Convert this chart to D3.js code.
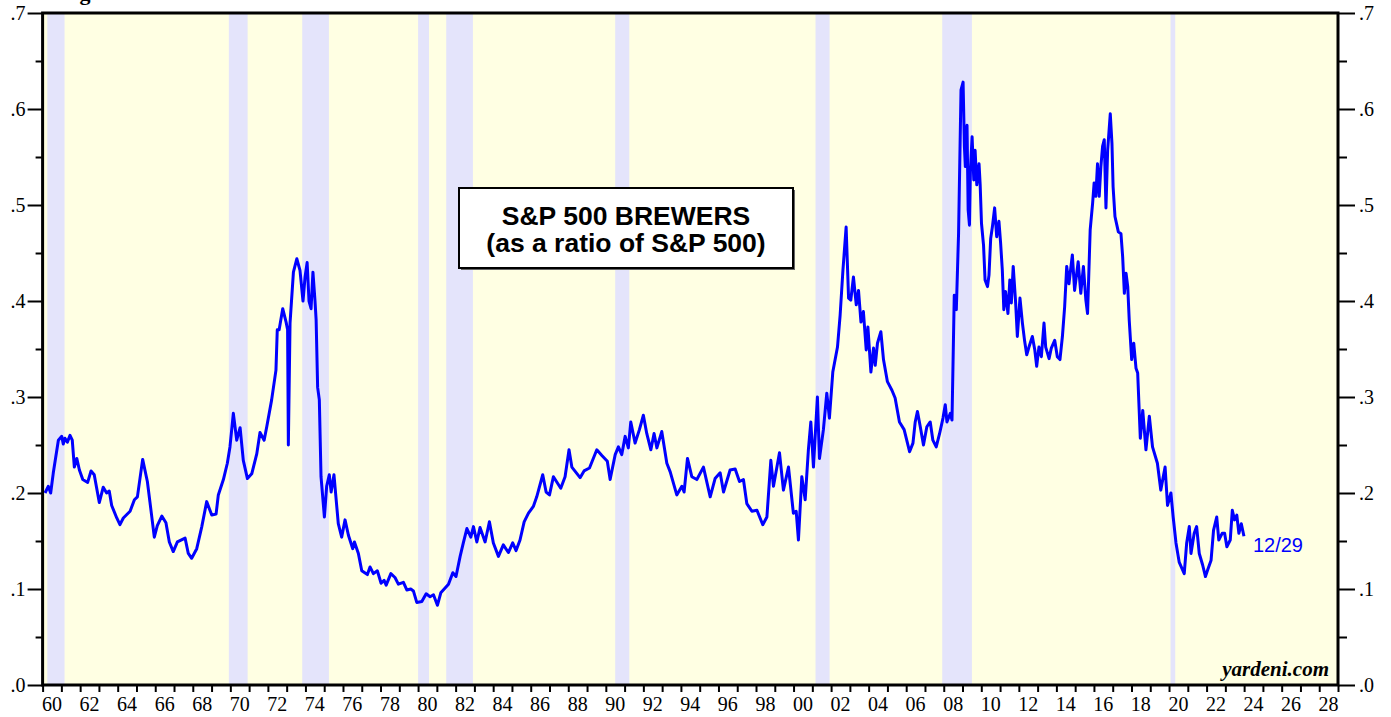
<!DOCTYPE html>
<html>
<head>
<meta charset="utf-8">
<script src="https://cdn.jsdelivr.net/npm/d3@7"></script>
<style>
  body { margin: 0; background: #fff; }
</style>
</head>
<body>
<div id="chart"></div>
<script>
// S&P 500 Brewers as a ratio of S&P 500 (decimal year, ratio)
const brewersRatio = [
  [1960.13,0.200],[1960.30,0.207],[1960.43,0.200],[1960.57,0.221],[1960.84,0.255],[1961.02,0.259],
  [1961.10,0.251],[1961.19,0.257],[1961.32,0.253],[1961.46,0.260],[1961.58,0.255],[1961.69,0.227],
  [1961.82,0.236],[1961.96,0.224],[1962.14,0.214],[1962.40,0.211],[1962.58,0.223],[1962.75,0.219],
  [1963.02,0.190],[1963.23,0.206],[1963.41,0.200],[1963.55,0.202],[1963.68,0.187],[1963.95,0.174],
  [1964.12,0.167],[1964.30,0.174],[1964.66,0.181],[1964.89,0.193],[1965.05,0.196],[1965.33,0.235],
  [1965.58,0.212],[1965.76,0.184],[1965.95,0.154],[1966.11,0.166],[1966.35,0.176],[1966.57,0.169],
  [1966.75,0.149],[1966.96,0.139],[1967.18,0.149],[1967.59,0.153],[1967.76,0.137],[1967.94,0.132],
  [1968.21,0.142],[1968.48,0.165],[1968.74,0.191],[1969.01,0.177],[1969.24,0.178],[1969.36,0.198],
  [1969.63,0.214],[1969.84,0.231],[1969.98,0.248],[1970.16,0.283],[1970.34,0.255],[1970.52,0.268],
  [1970.69,0.234],[1970.91,0.215],[1971.14,0.220],[1971.41,0.241],[1971.58,0.263],[1971.80,0.255],
  [1971.94,0.269],[1972.20,0.297],[1972.43,0.328],[1972.50,0.370],[1972.60,0.370],[1972.79,0.392],
  [1972.97,0.378],[1973.05,0.370],[1973.09,0.250],[1973.18,0.377],[1973.36,0.430],[1973.54,0.444],
  [1973.71,0.432],[1973.87,0.400],[1973.98,0.425],[1974.09,0.440],[1974.19,0.400],[1974.30,0.392],
  [1974.40,0.430],[1974.51,0.400],[1974.57,0.380],[1974.65,0.310],[1974.74,0.297],[1974.83,0.217],
  [1975.01,0.175],[1975.13,0.207],[1975.27,0.219],[1975.37,0.201],[1975.52,0.219],[1975.75,0.168],
  [1975.93,0.154],[1976.11,0.172],[1976.29,0.156],[1976.52,0.142],[1976.61,0.149],[1976.82,0.137],
  [1977.00,0.119],[1977.30,0.115],[1977.44,0.123],[1977.62,0.116],[1977.83,0.119],[1978.03,0.106],
  [1978.19,0.109],[1978.30,0.104],[1978.55,0.116],[1978.77,0.112],[1978.95,0.105],[1979.22,0.107],
  [1979.40,0.099],[1979.61,0.100],[1979.75,0.098],[1979.93,0.086],[1980.20,0.087],[1980.43,0.095],
  [1980.64,0.092],[1980.82,0.094],[1981.03,0.083],[1981.21,0.096],[1981.44,0.101],[1981.62,0.105],
  [1981.85,0.117],[1982.02,0.113],[1982.24,0.134],[1982.41,0.148],[1982.60,0.163],[1982.81,0.154],
  [1982.95,0.165],[1983.13,0.149],[1983.30,0.164],[1983.57,0.149],[1983.80,0.170],[1984.01,0.148],
  [1984.28,0.134],[1984.54,0.146],[1984.81,0.138],[1985.04,0.148],[1985.22,0.140],[1985.43,0.151],
  [1985.65,0.170],[1985.88,0.179],[1986.14,0.186],[1986.32,0.196],[1986.64,0.219],[1986.82,0.201],
  [1987.00,0.198],[1987.21,0.217],[1987.60,0.205],[1987.83,0.217],[1988.04,0.245],[1988.19,0.227],
  [1988.63,0.216],[1988.84,0.223],[1989.13,0.226],[1989.52,0.245],[1989.79,0.239],[1990.08,0.233],
  [1990.23,0.214],[1990.50,0.240],[1990.67,0.248],[1990.85,0.240],[1991.03,0.259],[1991.20,0.247],
  [1991.33,0.274],[1991.56,0.252],[1991.79,0.266],[1992.00,0.281],[1992.18,0.262],[1992.40,0.245],
  [1992.57,0.262],[1992.72,0.247],[1992.98,0.264],[1993.25,0.231],[1993.43,0.222],[1993.78,0.198],
  [1994.05,0.207],[1994.17,0.201],[1994.35,0.236],[1994.58,0.217],[1994.85,0.214],[1995.20,0.227],
  [1995.56,0.196],[1995.82,0.215],[1996.09,0.221],[1996.27,0.201],[1996.62,0.224],[1996.89,0.225],
  [1997.12,0.212],[1997.33,0.214],[1997.51,0.189],[1997.78,0.181],[1998.05,0.182],[1998.36,0.167],
  [1998.58,0.175],[1998.79,0.234],[1998.93,0.207],[1999.25,0.242],[1999.46,0.203],[1999.73,0.227],
  [1999.99,0.179],[2000.14,0.181],[2000.26,0.151],[2000.44,0.217],[2000.62,0.193],[2000.79,0.245],
  [2000.92,0.274],[2001.06,0.227],[2001.27,0.300],[2001.38,0.236],[2001.59,0.266],[2001.77,0.304],
  [2001.91,0.278],[2002.09,0.326],[2002.34,0.352],[2002.48,0.385],[2002.63,0.432],[2002.80,0.477],
  [2002.93,0.403],[2003.05,0.401],[2003.19,0.425],[2003.34,0.396],[2003.46,0.411],[2003.59,0.378],
  [2003.72,0.389],[2003.87,0.349],[2003.96,0.373],[2004.12,0.326],[2004.26,0.351],[2004.35,0.333],
  [2004.47,0.356],[2004.65,0.368],[2004.79,0.339],[2005.00,0.316],[2005.24,0.307],[2005.41,0.299],
  [2005.64,0.274],[2005.89,0.266],[2006.18,0.243],[2006.36,0.252],[2006.48,0.274],[2006.60,0.285],
  [2006.75,0.269],[2006.92,0.250],[2007.10,0.269],[2007.28,0.274],[2007.42,0.255],[2007.60,0.248],
  [2007.78,0.262],[2007.96,0.278],[2008.08,0.292],[2008.17,0.274],[2008.35,0.283],[2008.44,0.276],
  [2008.56,0.406],[2008.67,0.391],[2008.79,0.471],[2008.92,0.620],[2009.03,0.628],[2009.10,0.561],
  [2009.15,0.540],[2009.24,0.583],[2009.30,0.495],[2009.37,0.479],[2009.42,0.536],[2009.51,0.571],
  [2009.60,0.526],[2009.67,0.557],[2009.76,0.521],[2009.88,0.543],[2009.94,0.521],[2010.01,0.481],
  [2010.12,0.458],[2010.20,0.422],[2010.33,0.415],[2010.41,0.427],[2010.50,0.465],[2010.59,0.477],
  [2010.71,0.497],[2010.82,0.467],[2010.94,0.483],[2011.03,0.460],[2011.12,0.432],[2011.20,0.391],
  [2011.29,0.410],[2011.42,0.387],[2011.52,0.422],[2011.60,0.398],[2011.70,0.436],[2011.83,0.398],
  [2011.92,0.363],[2012.06,0.403],[2012.19,0.377],[2012.31,0.358],[2012.42,0.344],[2012.54,0.352],
  [2012.72,0.363],[2012.85,0.349],[2012.95,0.332],[2013.07,0.352],[2013.20,0.342],[2013.34,0.377],
  [2013.43,0.352],[2013.61,0.340],[2013.73,0.351],[2013.91,0.359],[2014.05,0.342],[2014.19,0.339],
  [2014.32,0.363],[2014.44,0.394],[2014.55,0.436],[2014.67,0.418],[2014.85,0.448],[2014.97,0.411],
  [2015.16,0.441],[2015.30,0.408],[2015.44,0.436],[2015.57,0.401],[2015.66,0.387],[2015.80,0.474],
  [2015.93,0.502],[2016.01,0.523],[2016.10,0.509],[2016.19,0.543],[2016.28,0.509],[2016.37,0.540],
  [2016.46,0.561],[2016.55,0.568],[2016.64,0.497],[2016.73,0.557],[2016.87,0.595],[2016.96,0.564],
  [2017.02,0.519],[2017.12,0.488],[2017.30,0.472],[2017.44,0.470],[2017.53,0.446],[2017.62,0.408],
  [2017.71,0.429],[2017.80,0.415],[2017.88,0.380],[2018.01,0.339],[2018.12,0.356],[2018.24,0.330],
  [2018.33,0.325],[2018.47,0.257],[2018.60,0.286],[2018.77,0.245],[2018.95,0.280],[2019.12,0.248],
  [2019.38,0.231],[2019.56,0.203],[2019.79,0.227],[2019.92,0.187],[2020.10,0.200],[2020.22,0.175],
  [2020.37,0.148],[2020.54,0.128],[2020.81,0.116],[2020.94,0.148],[2021.08,0.165],[2021.17,0.137],
  [2021.34,0.158],[2021.47,0.165],[2021.61,0.137],[2021.79,0.125],[2021.94,0.113],[2022.06,0.120],
  [2022.24,0.130],[2022.37,0.161],[2022.54,0.175],[2022.65,0.151],[2022.83,0.158],[2022.96,0.158],
  [2023.08,0.144],[2023.26,0.151],[2023.37,0.182],[2023.49,0.172],[2023.61,0.177],[2023.72,0.158],
  [2023.85,0.168],[2023.99,0.155]
];

// recession periods (decimal years)
const recessions = [
  [1960.25,1961.17],[1969.92,1970.92],[1973.83,1975.25],[1980.0,1980.58],[1981.5,1982.92],
  [1990.5,1991.25],[2001.17,2001.92],[2007.92,2009.5],[2020.08,2020.33]
];

const yTicks = [0, 0.1, 0.2, 0.3, 0.4, 0.5, 0.6, 0.7];
const yMinorTicks = [0.05, 0.15, 0.25, 0.35, 0.45, 0.55, 0.65];
const yearLabels = d3.range(1960, 2029, 2);
const yearTicks = d3.range(1960, 2030, 1);
const titleLines = ["S&P 500 BREWERS", "(as a ratio of S&P 500)"];
const lastDate = "12/29";

const width = 1391, height = 717;
const plotLeft = 42.6, plotRight = 1338, plotTop = 13, plotBottom = 685;

const svg = d3.select("#chart").append("svg")
    .attr("width", width)
    .attr("height", height);

const x = d3.scaleLinear().domain([1960, 2029]).range([plotLeft, plotRight]);
const y = d3.scaleLinear().domain([0, 0.7]).range([plotBottom, plotTop]);

// background
svg.append("rect")
    .attr("x", plotLeft).attr("y", plotTop)
    .attr("width", plotRight - plotLeft).attr("height", plotBottom - plotTop)
    .attr("fill", "#ffffe3");

// recession shading
svg.selectAll("rect.rec")
    .data(recessions)
    .enter().append("rect")
    .attr("class", "rec")
    .attr("x", d => x(d[0]))
    .attr("y", plotTop)
    .attr("width", d => x(d[1]) - x(d[0]))
    .attr("height", plotBottom - plotTop)
    .attr("fill", "#e4e4fb");

// figure title, cut off by the top edge as in the source image
svg.append("text")
    .attr("x", 60).attr("y", 0)
    .attr("font-family", "Liberation Serif, serif")
    .attr("font-weight", "bold")
    .attr("font-size", 22)
    .text("Figure");

const fmt = d => d3.format(".1f")(d).replace(/^0/, "");

// left axis
const leftAxis = svg.append("g").attr("transform", `translate(${plotLeft},0)`);
leftAxis.call(d3.axisLeft(y).tickValues(yTicks).tickSize(15).tickFormat(fmt));
leftAxis.append("g").call(d3.axisLeft(y).tickValues(yMinorTicks).tickSize(7).tickFormat(""));

// right axis
const rightAxis = svg.append("g").attr("transform", `translate(${plotRight},0)`);
rightAxis.call(d3.axisRight(y).tickValues(yTicks).tickSize(17).tickFormat(fmt));
rightAxis.append("g").call(d3.axisRight(y).tickValues(yMinorTicks).tickSize(9).tickFormat(""));

// bottom axis: ticks every year, labels at mid-year of even years
const bottomAxis = svg.append("g").attr("transform", `translate(0,${plotBottom})`);
bottomAxis.call(d3.axisBottom(x).tickValues(yearTicks).tickSize(7).tickFormat(""));
svg.append("g").selectAll("text.yr")
    .data(yearLabels)
    .enter().append("text")
    .attr("class", "yr")
    .attr("x", d => x(d + 0.5))
    .attr("y", 711)
    .attr("text-anchor", "middle")
    .attr("font-family", "Liberation Serif, serif")
    .attr("font-size", 20)
    .text(d => String(d % 100).padStart(2, "0"));

svg.selectAll(".domain").remove();
svg.selectAll(".tick line").attr("stroke", "#000").attr("stroke-width", 2);
svg.selectAll(".tick text")
    .attr("font-family", "Liberation Serif, serif")
    .attr("font-size", 20)
    .attr("fill", "#000");
leftAxis.selectAll(".tick text").attr("x", -17);
rightAxis.selectAll(".tick text").attr("x", 21);

// series line
const line = d3.line()
    .x(d => x(d[0]))
    .y(d => y(d[1]));

svg.append("path")
    .datum(brewersRatio)
    .attr("fill", "none")
    .attr("stroke", "#0000ff")
    .attr("stroke-width", 3)
    .attr("stroke-linejoin", "round")
    .attr("d", line);

// frame
svg.append("rect")
    .attr("x", plotLeft).attr("y", plotTop)
    .attr("width", plotRight - plotLeft).attr("height", plotBottom - plotTop)
    .attr("fill", "none")
    .attr("stroke", "#000")
    .attr("stroke-width", 3);

// last date label
const lastPt = brewersRatio[brewersRatio.length - 1];
svg.append("text")
    .attr("x", x(lastPt[0]) + 9)
    .attr("y", y(lastPt[1]) + 16)
    .attr("font-family", "Liberation Sans, Arial, sans-serif")
    .attr("font-size", 20)
    .attr("fill", "#0000ff")
    .text(lastDate);

// title box
const box = svg.append("g");
box.append("rect")
    .attr("x", 461).attr("y", 190)
    .attr("width", 334).attr("height", 80)
    .attr("fill", "#666");
box.append("rect")
    .attr("x", 459).attr("y", 188)
    .attr("width", 334).attr("height", 80)
    .attr("fill", "#fff")
    .attr("stroke", "#000")
    .attr("stroke-width", 2);
box.selectAll("text")
    .data(titleLines)
    .enter().append("text")
    .attr("x", 626)
    .attr("y", (d, i) => 225 + i * 27)
    .attr("text-anchor", "middle")
    .attr("font-family", "Liberation Sans, Arial, sans-serif")
    .attr("font-weight", "bold")
    .attr("font-size", 26.5)
    .text(d => d);

// source
svg.append("text")
    .attr("x", 1329).attr("y", 676)
    .attr("text-anchor", "end")
    .attr("font-family", "Liberation Serif, serif")
    .attr("font-weight", "bold")
    .attr("font-style", "italic")
    .attr("font-size", 21)
    .text("yardeni.com");
</script>
</body>
</html>
